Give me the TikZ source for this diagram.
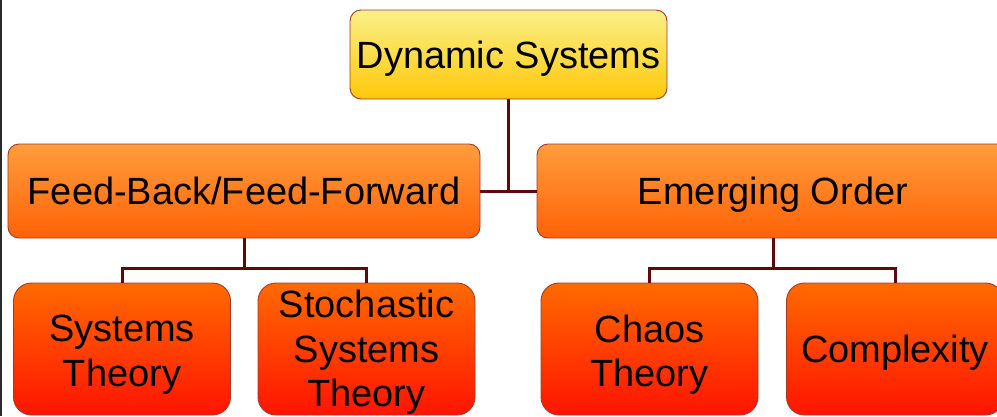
\documentclass[tikz,border=0pt]{standalone}
\usepackage{fontspec}
\setmainfont{Liberation Sans}
\definecolor{yA}{HTML}{FAF08A}
\definecolor{yB}{HTML}{FEC808}
\definecolor{oA}{HTML}{FF9D3C}
\definecolor{oB}{HTML}{FF6206}
\definecolor{rA}{HTML}{FF6A00}
\definecolor{rB}{HTML}{FF1400}
\definecolor{bordercol}{HTML}{A23A2C}
\definecolor{linkcol}{HTML}{5C0A0A}
\definecolor{edgecol}{HTML}{2A2A2A}
\begin{document}
\begin{tikzpicture}[x=1bp,y=-1bp,
  every node/.style={font=\fontsize{38.1}{45}\selectfont},
  boxbase/.style={draw=bordercol, line width=0.9bp, inner sep=0pt},
  lvlone/.style={boxbase, rounded corners=11bp, top color=yA, bottom color=yB,
    minimum width=317bp, minimum height=89bp, text height=27.9bp, text depth=-4bp},
  lvltwo/.style={boxbase, rounded corners=11bp, top color=oA, bottom color=oB,
    minimum width=472bp, minimum height=94bp, text height=27.9bp, text depth=0bp},
  lvlthree/.style={boxbase, rounded corners=18bp, top color=rA, bottom color=rB,
    minimum width=217bp, minimum height=132bp},
  lvlthreetext/.style={lvlthree, text height=27.9bp, text depth=0bp},
  txt/.style={align=center, inner sep=0pt},
  link/.style={draw=linkcol, line width=3bp}]
\useasboundingbox (0,0) rectangle (997,416);
\fill[edgecol] (0,0) rectangle (1.6,416);

% boxes
\node[lvlone] (top) at (508.5,54.5) {Dynamic Systems};
\node[lvltwo] (fb) at (244,191) {Feed-Back/Feed-Forward};
\node[lvltwo] (eo) at (773,191) {Emerging Order};
\node[lvlthree] (st) at (122,349) {};
\node[lvlthree] (ss) at (366.5,349) {};
\node[lvlthree] (ch) at (649.5,349) {};
\node[lvlthreetext] (cx) at (895,349) {Complexity};

% multi-line texts
\node[txt, yshift=-5.75bp] (stt) at (st.center) {Systems\\Theory};
\node[txt, yshift=-3.25bp] (sst) at (ss.center) {Stochastic\\Systems\\Theory};
\node[txt, yshift=-5.75bp] (cht) at (ch.center) {Chaos\\Theory};

% connectors
\draw[link] (top.south) -- (top.south |- fb.east);
\draw[link] (fb.east) -- (eo.west);
\draw[link] (fb.south) -- ++(0,30) coordinate (jl);
\draw[link] (st.north) |- (jl) -| (ss.north);
\draw[link] (eo.south) -- ++(0,30) coordinate (jr);
\draw[link] (ch.north) |- (jr) -| (cx.north);
\end{tikzpicture}
\end{document}
